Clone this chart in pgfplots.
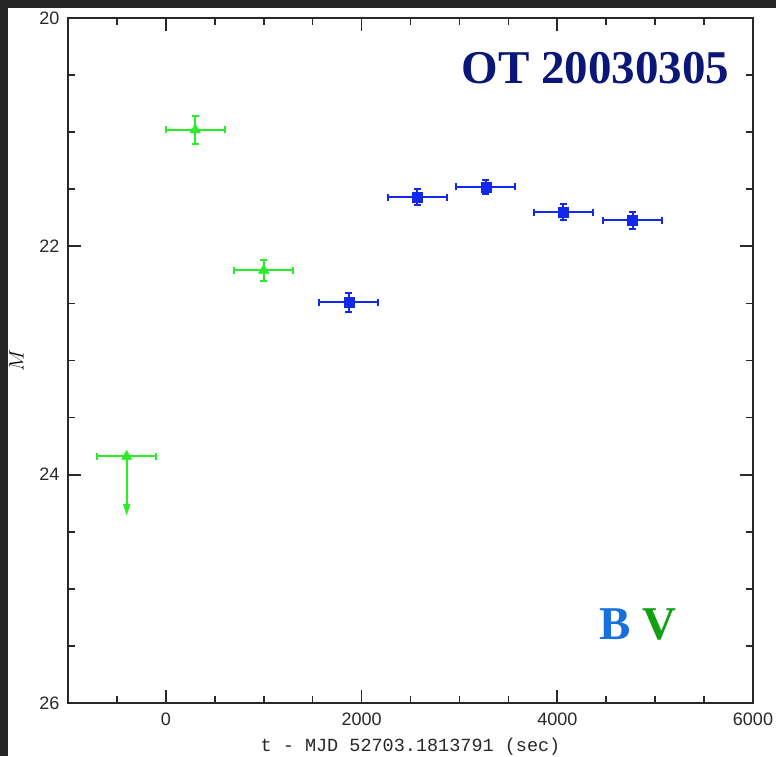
\documentclass[border=0pt]{standalone}
\usepackage{fontspec}
\setmainfont{Liberation Serif}
\setsansfont{Liberation Sans}
\setmonofont{Liberation Mono}
\usepackage{pgfplots}
\pgfplotsset{compat=1.18}
\usetikzlibrary{arrows.meta}

\definecolor{framebg}{RGB}{38,38,38}
\definecolor{vgreen}{RGB}{40,238,40}
\definecolor{bblue}{RGB}{20,40,235}
\definecolor{navy}{RGB}{10,22,120}
\definecolor{labB}{RGB}{22,112,222}
\definecolor{labV}{RGB}{16,160,16}
\definecolor{axisgray}{RGB}{40,40,40}

\pgfplotsset{
  photerr/.style={
    error bars/.cd,
    error bar style={line width=2pt, #1},
    error mark options={rotate=90, line width=2pt, mark size=3.5pt, #1},
  },
}

\begin{document}
\begin{tikzpicture}
\useasboundingbox (0,0) rectangle (776pt,756pt);
\fill[white] (0,0) rectangle (776pt,756pt);
\begin{axis}[
  at={(68pt,53pt)}, anchor=south west,
  scale only axis, width=685pt, height=685pt,
  xmin=-1000, xmax=6000, ymin=20, ymax=26, y dir=reverse,
  xtick={0,2000,4000,6000},
  minor xtick={-500,500,1000,1500,2500,3000,3500,4500,5000,5500},
  ytick={20,22,24,26},
  minor ytick={20.5,21,21.5,22.5,23,23.5,24.5,25,25.5},
  tick align=inside, tick pos=both,
  xticklabel pos=bottom, yticklabel pos=left,
  major tick length=13pt, minor tick length=7pt,
  axis line style={line width=1.7pt, axisgray},
  tick style={line width=1.7pt, axisgray},
  tick label style={font=\sffamily\fontsize{18}{18}\selectfont, text=axisgray},
  /pgf/number format/assume math mode=true,
  /pgf/number format/1000 sep={},
  xticklabel style={yshift=-6pt},
  yticklabel style={xshift=-5pt},
  xlabel={t - MJD 52703.1813791 (sec)},
  xlabel style={font=\ttfamily\fontsize{18.5}{18.5}\selectfont, text=axisgray,
    at={(axis description cs:0.5,-0.064)}, anchor=center},
  ylabel={$M$},
  ylabel style={font=\fontsize{21}{21}\selectfont, text=black,
    at={(axis description cs:-0.075,0.5)}, anchor=center},
  clip=false,
]
% V band detections
\addplot[only marks, mark=triangle*, mark size=6pt, color=vgreen,
  photerr=vgreen, x dir=both, x explicit, y dir=both, y explicit]
  coordinates {
    (300,20.98) +- (300,0.12)
    (1000,22.21) +- (300,0.09)
  };
% V band upper limit
\addplot[only marks, mark=triangle*, mark size=6pt, color=vgreen,
  photerr=vgreen, x dir=both, x explicit]
  coordinates {
    (-400,23.84) +- (300,0)
  };
\addplot[line width=2pt, vgreen, -{Triangle[length=12pt,width=7pt]}]
  coordinates {(-400,23.84) (-400,24.36)};
% B band detections
\addplot[only marks, mark=square*, mark size=5pt, color=bblue,
  photerr=bblue, x dir=both, x explicit, y dir=both, y explicit]
  coordinates {
    (1870,22.49) +- (300,0.085)
    (2570,21.57) +- (300,0.07)
    (3270,21.48) +- (300,0.065)
    (4060,21.70) +- (300,0.07)
    (4770,21.77) +- (300,0.075)
  };
\node[anchor=base east, inner sep=0, text=navy,
  font=\bfseries\fontsize{47}{47}\selectfont]
  at (axis description cs:0.966,0.905) {OT 20030305};
\node[anchor=base east, inner sep=0,
  font=\bfseries\fontsize{47}{47}\selectfont]
  at (axis description cs:0.889,0.0934) {\textcolor{labB}{B} \textcolor{labV}{V}};
\end{axis}
\fill[framebg] (0,748pt) rectangle (776pt,756pt);
\fill[framebg] (0,0) rectangle (8pt,756pt);
\end{tikzpicture}
\end{document}
